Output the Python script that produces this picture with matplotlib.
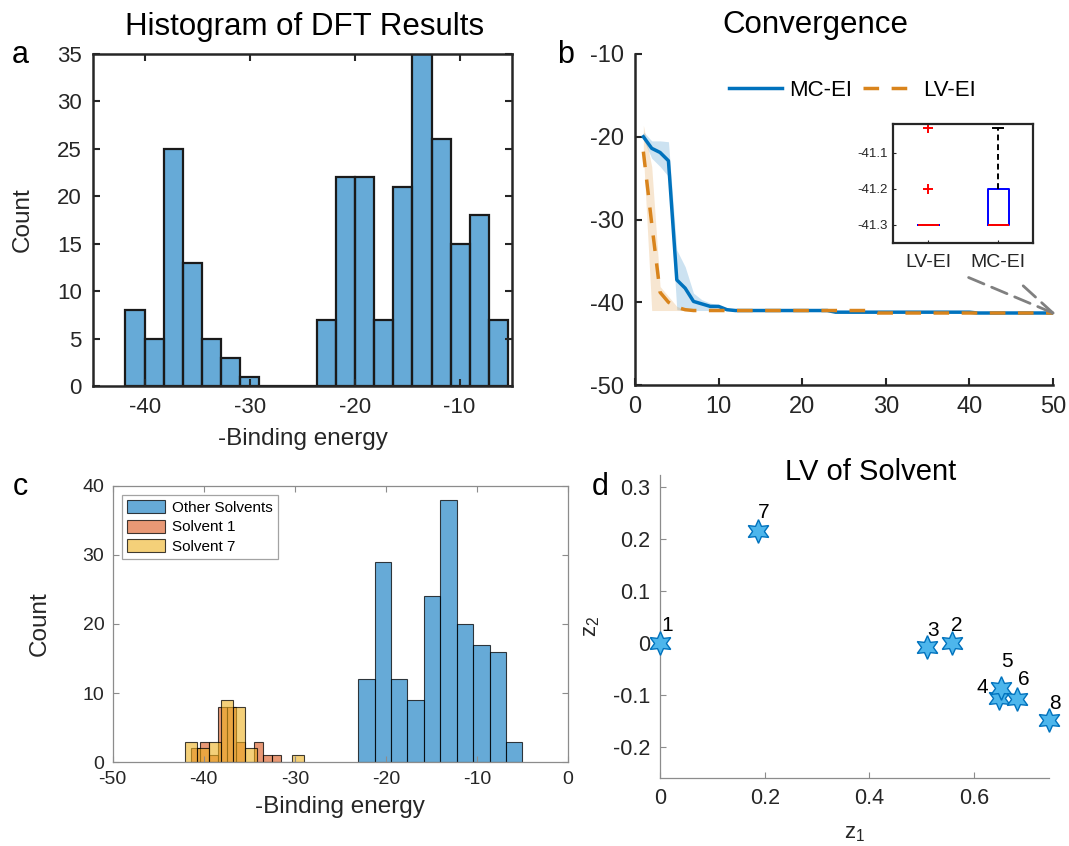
import numpy as np
import matplotlib.pyplot as plt
from matplotlib.patches import ConnectionPatch

plt.rcParams['font.family'] = ['Liberation Sans', 'DejaVu Sans']
plt.rcParams['axes.unicode_minus'] = False
plt.rcParams['mathtext.fontset'] = 'custom'
plt.rcParams['mathtext.rm'] = 'Liberation Sans'
plt.rcParams['mathtext.it'] = 'Liberation Sans'

# --- panel a: histogram of all DFT results ---
dft_edges = np.linspace(-41.9, -5.37, 21)
dft_counts = [8, 5, 25, 13, 5, 3, 1, 0, 0, 0, 7, 22, 22, 7, 21, 35, 26, 15, 18, 7]

# --- panel b: convergence ---
iterations = np.arange(1, 51)
mc_ei = [-20.0, -21.4, -21.9, -22.9, -37.3, -38.3, -39.9, -40.2, -40.5, -40.5,
         -40.9, -41.0, -41.0, -41.0, -41.0, -41.0, -41.0, -41.0, -41.0, -41.0,
         -41.0, -41.0, -41.0, -41.2, -41.2, -41.2, -41.2, -41.2, -41.2, -41.2,
         -41.2, -41.2, -41.2, -41.2, -41.2, -41.2, -41.2, -41.2, -41.2, -41.2,
         -41.3, -41.3, -41.3, -41.3, -41.3, -41.3, -41.3, -41.3, -41.3, -41.3]
lv_ei = [-21.8, -30.5, -38.8, -40.0, -40.6, -40.9, -41.0, -41.0, -41.0, -41.0,
         -41.0, -41.0, -41.0, -41.0, -41.0, -41.0, -41.0, -41.0, -41.0, -41.0,
         -41.0, -41.0, -41.0, -41.0, -41.0, -41.0, -41.0, -41.0, -41.3, -41.3,
         -41.3, -41.3, -41.3, -41.3, -41.3, -41.3, -41.3, -41.3, -41.3, -41.3,
         -41.3, -41.3, -41.3, -41.3, -41.3, -41.3, -41.3, -41.3, -41.3, -41.3]
# spread bands over the first iterations (zero width afterwards)
mc_upper = [-19.4, -20.5, -20.5, -20.6, -33.7, -35.7, -38.9, -39.7, -40.1, -40.3, -40.8, -41.0]
mc_lower = [-20.3, -22.6, -23.6, -24.8, -40.9, -41.0, -41.0, -41.0, -41.0, -41.0, -41.0, -41.0]
lv_upper = [-18.6, -23.6, -38.1, -39.3, -40.5, -40.9, -41.0, -41.0]
lv_lower = [-22.0, -41.0, -41.0, -41.0, -41.0, -41.0, -41.0, -41.0]

# inset box plot of final values
box_names = ['LV-EI', 'MC-EI']
box_med = [-41.3, -41.3]
box_q1 = [-41.3, -41.3]
box_q3 = [-41.3, -41.2]
box_lo = [-41.3, -41.3]
box_hi = [-41.3, -41.03]
box_fliers = [[-41.2, -41.03], []]

# --- panel c: histogram by solvent ---
other_edges = np.linspace(-23.04, -5.01, 11)
other_counts = [12, 29, 12, 9, 24, 38, 20, 17, 16, 3]
solv1_edges = np.linspace(-41.40, -31.56, 11)
solv1_counts = [2, 3, 1, 8, 8, 3, 0, 3, 1, 1]
solv7_edges = np.linspace(-42.03, -28.97, 11)
solv7_counts = [3, 2, 3, 9, 8, 2, 0, 0, 0, 1]

# --- panel d: latent variables ---
z1 = [0.0, 0.557, 0.510, 0.647, 0.652, 0.681, 0.188, 0.743]
z2 = [0.0, 0.001, -0.007, -0.105, -0.087, -0.108, 0.217, -0.149]
solvent_ids = ['1', '2', '3', '4', '5', '6', '7', '8']
label_offsets = [(5, 13), (4, 12), (4, 12), (-12, 7), (4, 19), (5, 14), (4, 13), (4, 12)]

BLUE = '#0072BD'
ORANGE = '#D9841C'
DARK = '#262626'
GRAY = '#8C8C8C'

fig = plt.figure(figsize=(10.69, 8.46), dpi=100)
W, H = 1069, 846


def rect(l, t, r, b):
    return [l / W, 1 - b / H, (r - l) / W, (b - t) / H]


# panel a
ax = fig.add_axes(rect(93, 54, 512, 386))
ax.bar(dft_edges[:-1], dft_counts, width=np.diff(dft_edges), align='edge',
       facecolor=(0, 0.447, 0.741, 0.6), edgecolor='#1a1a1a', linewidth=1.6)
ax.set_xlim(-45, -5)
ax.set_ylim(0, 35)
ax.set_xticks([-40, -30, -20, -10])
ax.set_yticks(range(0, 36, 5))
ax.tick_params(direction='in', top=True, right=True, length=5, width=1.5,
               labelsize=16, colors=DARK, pad=8)
for s in ax.spines.values():
    s.set_linewidth(1.8)
    s.set_color(DARK)
ax.set_xlabel('-Binding energy', fontsize=17.5, color=DARK)
ax.xaxis.set_label_coords(0.5, -0.128)
ax.set_ylabel('Count', fontsize=17.5, color=DARK)
ax.yaxis.set_label_coords(-0.142, 0.5)
fig.text(305 / W, 1 - 27 / H, 'Histogram of DFT Results', fontsize=22.5,
         ha='center', va='center')

# panel b
ax = fig.add_axes(rect(635, 54, 1053, 385))
ax.fill_between(iterations[:len(mc_upper)], mc_lower, mc_upper, color=BLUE,
                alpha=0.2, linewidth=0)
ax.fill_between(iterations[:len(lv_upper)], lv_lower, lv_upper, color=ORANGE,
                alpha=0.2, linewidth=0)
ax.plot(iterations, mc_ei, color=BLUE, lw=2.5, label='MC-EI')
ax.plot(iterations, lv_ei, color=ORANGE, lw=2.5, linestyle=(0, (4.5, 3.6)),
        label='LV-EI')
ax.set_xlim(0, 50)
ax.set_ylim(-50, -10)
ax.set_xticks(range(0, 51, 10))
ax.set_yticks(range(-50, -9, 10))
ax.spines['top'].set_visible(False)
ax.spines['right'].set_visible(False)
for s in ax.spines.values():
    s.set_linewidth(1.8)
    s.set_color(DARK)
ax.tick_params(direction='in', length=5, width=1.5, labelsize=17, colors=DARK, pad=8)
ax.legend(loc='center', bbox_to_anchor=(0.52, 0.89), ncol=2, frameon=False,
          fontsize=16, handlelength=2.4, columnspacing=0.5, handletextpad=0.3)
fig.text(815 / W, 1 - 25 / H, 'Convergence', fontsize=22.5, ha='center', va='center')
ax_b = ax

# inset
ax = fig.add_axes(rect(893, 124, 1033, 243))
stats = []
for i in range(2):
    stats.append(dict(med=box_med[i], q1=box_q1[i], q3=box_q3[i],
                      whislo=box_lo[i], whishi=box_hi[i], fliers=box_fliers[i]))
ax.bxp(stats, positions=[1, 2], widths=0.3, showfliers=True,
       boxprops=dict(color='blue', lw=1.4),
       medianprops=dict(color='red', lw=1.4),
       whiskerprops=dict(color='k', lw=1.4, linestyle=(0, (3, 2))),
       capprops=dict(color='k', lw=1.4),
       flierprops=dict(marker='+', markeredgecolor='red', markersize=7, mew=1.4))
ax.set_xlim(0.5, 2.5)
ax.set_ylim(-41.35, -41.02)
ax.set_yticks([-41.3, -41.2, -41.1])
ax.set_yticklabels(['-41.3', '-41.2', '-41.1'])
ax.set_xticks([1, 2])
ax.set_xticklabels(box_names)
ax.tick_params(axis='y', labelsize=9.5, direction='in', length=2, colors=DARK)
ax.tick_params(axis='x', labelsize=14, direction='in', length=2, colors=DARK, pad=8)
for s in ax.spines.values():
    s.set_linewidth(1.6)
    s.set_color(DARK)
for xa, ya in [(0.54, -0.29), (0.93, -0.36)]:
    con = ConnectionPatch(xyA=(xa, ya), coordsA=ax.transAxes,
                          xyB=(iterations[-1], mc_ei[-1]), coordsB=ax_b.transData,
                          color='#808080', lw=2, linestyle=(0, (6, 3)))
    fig.add_artist(con)

# panel c
ax = fig.add_axes(rect(112.7, 485.7, 568, 762.3))
ax.bar(other_edges[:-1], other_counts, width=np.diff(other_edges), align='edge',
       facecolor=(0, 0.447, 0.741, 0.6), edgecolor=(0, 0, 0, 0.75), linewidth=0.8,
       label='Other Solvents')
ax.bar(solv1_edges[:-1], solv1_counts, width=np.diff(solv1_edges), align='edge',
       facecolor=(0.85, 0.325, 0.098, 0.6), edgecolor=(0, 0, 0, 0.75), linewidth=0.8,
       label='Solvent 1')
ax.bar(solv7_edges[:-1], solv7_counts, width=np.diff(solv7_edges), align='edge',
       facecolor=(0.929, 0.694, 0.125, 0.6), edgecolor=(0, 0, 0, 0.75), linewidth=0.8,
       label='Solvent 7')
ax.set_xlim(-50, 0)
ax.set_ylim(0, 40)
ax.set_xticks(range(-50, 1, 10))
ax.set_yticks(range(0, 41, 10))
ax.tick_params(direction='in', top=True, right=True, length=4, width=0.8,
               labelsize=14, labelcolor=DARK, color=GRAY, pad=6)
for s in ax.spines.values():
    s.set_linewidth(0.9)
    s.set_color(GRAY)
leg = ax.legend(loc='upper left', fontsize=11, fancybox=False, edgecolor=GRAY,
                handlelength=2.5, handleheight=0.95, borderaxespad=0.6,
                handletextpad=0.4, borderpad=0.35, labelspacing=0.3)
leg.get_frame().set_linewidth(0.9)
ax.set_xlabel('-Binding energy', fontsize=17.5, color=DARK)
ax.xaxis.set_label_coords(0.5, -0.122)
ax.set_ylabel('Count', fontsize=17.5, color=DARK)
ax.yaxis.set_label_coords(-0.135, 0.5)

# panel d
ax = fig.add_axes(rect(660, 475, 1049, 778))
ax.plot(z1, z2, linestyle='none', marker=(6, 1, 0), markersize=17,
        markerfacecolor='#4DB6EC', markeredgecolor=BLUE, markeredgewidth=1.0,
        clip_on=False, zorder=3)
for x, y, s, off in zip(z1, z2, solvent_ids, label_offsets):
    ax.annotate(s, (x, y), xytext=off, textcoords='offset points', fontsize=15,
                ha='center', va='center', color='k')
ax.set_xlim(0, 0.743)
ax.set_ylim(-0.26, 0.324)
ax.set_xticks([0, 0.2, 0.4, 0.6])
ax.set_xticklabels(['0', '0.2', '0.4', '0.6'])
ax.set_yticks([-0.2, -0.1, 0, 0.1, 0.2, 0.3])
ax.set_yticklabels(['-0.2', '-0.1', '0', '0.1', '0.2', '0.3'])
ax.spines['top'].set_visible(False)
ax.spines['right'].set_visible(False)
for s in ax.spines.values():
    s.set_linewidth(0.9)
    s.set_color(GRAY)
ax.tick_params(direction='in', length=4, width=0.8, labelsize=15.5,
               labelcolor=DARK, color=GRAY, pad=7)
ax.set_xlabel('z$_1$', fontsize=16, color=DARK, labelpad=10)
ax.set_ylabel('z$_2$', fontsize=16, color=DARK, labelpad=8)
fig.text(871 / W, 1 - 472 / H, 'LV of Solvent', fontsize=21, ha='center', va='center')

# panel letters
for letter, (px, py) in zip('abcd', [(20, 55), (566, 55), (20, 487), (600, 487)]):
    fig.text(px / W, 1 - py / H, letter, fontsize=22, ha='center', va='center')

fig.savefig('out.png', dpi=100)
